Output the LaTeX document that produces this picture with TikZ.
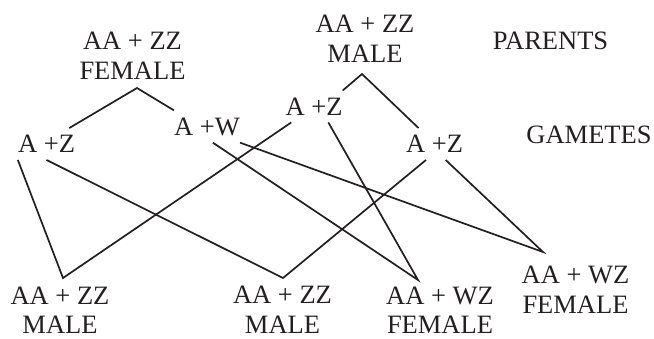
\documentclass[tikz,border=0pt]{standalone}
\usepackage{fontspec}
\setmainfont{Liberation Serif}
\usepackage{xcolor}
\usetikzlibrary{positioning}
\definecolor{inkgray}{RGB}{35,31,32}

\begin{document}
\begin{tikzpicture}[x=1pt, y=-1pt,
    % Node styles
    parent/.style={align=center, inner sep=0pt, text=inkgray, font={\fontsize{26.5}{29.5}\selectfont}},
    gamete/.style={inner xsep=0pt, inner ysep=7pt, text=inkgray, font={\fontsize{26.5}{29.5}\selectfont}},
    child/.style={parent},
    rowname/.style={inner sep=0pt, text=inkgray, font={\fontsize{26.5}{29.5}\selectfont}},
    % Edge styles
    cross/.style={draw=inkgray, line width=1.7pt}
]
\useasboundingbox (0,0) rectangle (654,338);

% Parents
\node[parent] (female) at (132.5,55.5) {AA + ZZ\\FEMALE};
\node[parent] (male) at (365,38.5) {AA + ZZ\\MALE};

% Row names
\node[rowname] (parents) at (550.5,41) {PARENTS};
\node[rowname] (gametes) at (589,134.5) {GAMETES};

% Gametes
\node[gamete] (g1) at (46.5,144) {A +Z};
\node[gamete] (g2) at (207,126.5) {A +W};
\node[gamete] (g3) at (314,106.5) {A +Z};
\node[gamete] (g4) at (434.5,144) {A +Z};

% Offspring
\node[child] (o1) at (60,310) {AA + ZZ\\MALE};
\node[child] (o2) at (282.5,309.5) {AA + ZZ\\MALE};
\node[child] (o3) at (440,310) {AA + WZ\\FEMALE};
\node[child] (o4) at (575.5,289.5) {AA + WZ\\FEMALE};

% Meeting points
\coordinate (fapex) at (137,88);
\coordinate (mapex) at (362,74);
\coordinate (o1top) at (63,278);
\coordinate (o2top) at (283,278);
\coordinate (o3top) at (418,280);
\coordinate (o4top) at (543,252);

% Draw all edges
\draw[cross] (g1.35) -- (fapex) -- (g2.north west);
\draw[cross] (g3.north east) -- (mapex) -- (g4.135);

\draw[cross] (g1.south west) -- (o1top) -- (g3.-145);
\draw[cross] (g1.south) -- (o2top) -- (g4.-118);
\draw[cross] (g2.-70) -- (o3top) -- (g3.-48);
\draw[cross] (g2.south east) -- (o4top) -- (g4.-55);

\end{tikzpicture}
\end{document}
